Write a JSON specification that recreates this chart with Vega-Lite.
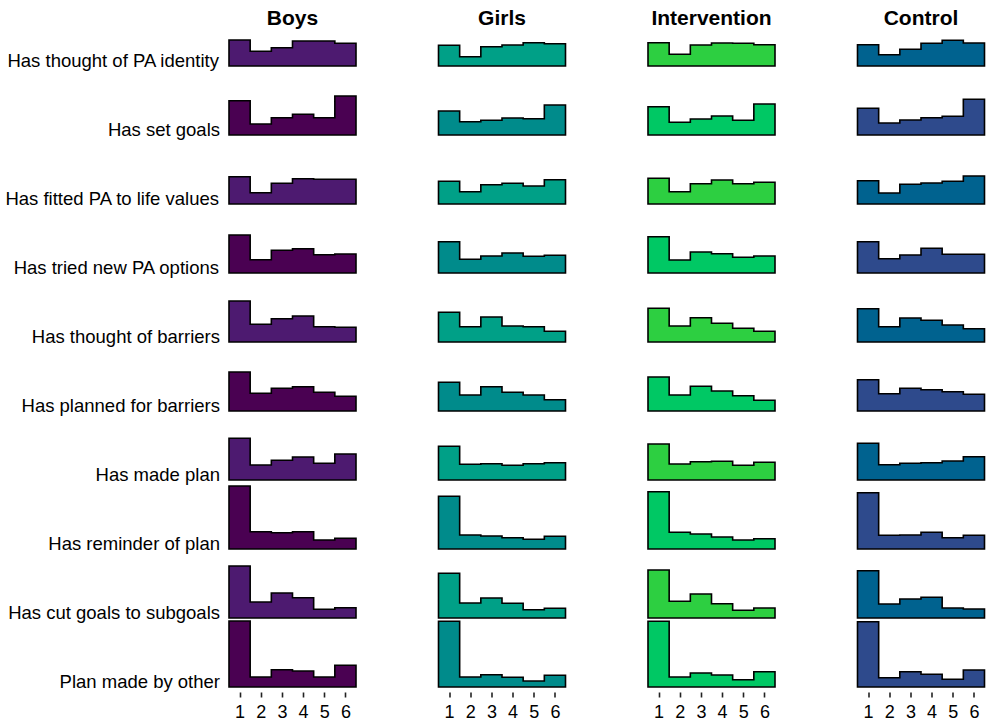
{
 "$schema": "https://vega.github.io/schema/vega-lite/v6.json",
 "padding": {"left": 5, "top": 8, "right": 0, "bottom": 0},
 "background": "white",
 "bounds": "flush",
 "config": {"view": {"stroke": null}, "font": "Liberation Sans"},
 "data": {"values": [
{"group":"Boys","item":"Has thought of PA identity","score":0.5,"height":26},
{"group":"Boys","item":"Has thought of PA identity","score":1,"height":26},
{"group":"Boys","item":"Has thought of PA identity","score":2,"height":14.7},
{"group":"Boys","item":"Has thought of PA identity","score":3,"height":18.3},
{"group":"Boys","item":"Has thought of PA identity","score":4,"height":25},
{"group":"Boys","item":"Has thought of PA identity","score":5,"height":25},
{"group":"Boys","item":"Has thought of PA identity","score":6,"height":22.7},
{"group":"Boys","item":"Has thought of PA identity","score":6.5,"height":22.7},
{"group":"Boys","item":"Has set goals","score":0.5,"height":34.3},
{"group":"Boys","item":"Has set goals","score":1,"height":34.3},
{"group":"Boys","item":"Has set goals","score":2,"height":11},
{"group":"Boys","item":"Has set goals","score":3,"height":17.3},
{"group":"Boys","item":"Has set goals","score":4,"height":20.7},
{"group":"Boys","item":"Has set goals","score":5,"height":17.3},
{"group":"Boys","item":"Has set goals","score":6,"height":39},
{"group":"Boys","item":"Has set goals","score":6.5,"height":39},
{"group":"Boys","item":"Has fitted PA to life values","score":0.5,"height":27.3},
{"group":"Boys","item":"Has fitted PA to life values","score":1,"height":27.3},
{"group":"Boys","item":"Has fitted PA to life values","score":2,"height":11.3},
{"group":"Boys","item":"Has fitted PA to life values","score":3,"height":20.7},
{"group":"Boys","item":"Has fitted PA to life values","score":4,"height":25.3},
{"group":"Boys","item":"Has fitted PA to life values","score":5,"height":24.7},
{"group":"Boys","item":"Has fitted PA to life values","score":6,"height":24.7},
{"group":"Boys","item":"Has fitted PA to life values","score":6.5,"height":24.7},
{"group":"Boys","item":"Has tried new PA options","score":0.5,"height":38},
{"group":"Boys","item":"Has tried new PA options","score":1,"height":38},
{"group":"Boys","item":"Has tried new PA options","score":2,"height":13.3},
{"group":"Boys","item":"Has tried new PA options","score":3,"height":22.7},
{"group":"Boys","item":"Has tried new PA options","score":4,"height":24.3},
{"group":"Boys","item":"Has tried new PA options","score":5,"height":18.3},
{"group":"Boys","item":"Has tried new PA options","score":6,"height":19},
{"group":"Boys","item":"Has tried new PA options","score":6.5,"height":19},
{"group":"Boys","item":"Has thought of barriers","score":0.5,"height":41},
{"group":"Boys","item":"Has thought of barriers","score":1,"height":41},
{"group":"Boys","item":"Has thought of barriers","score":2,"height":17.7},
{"group":"Boys","item":"Has thought of barriers","score":3,"height":23.3},
{"group":"Boys","item":"Has thought of barriers","score":4,"height":26},
{"group":"Boys","item":"Has thought of barriers","score":5,"height":15.3},
{"group":"Boys","item":"Has thought of barriers","score":6,"height":14.7},
{"group":"Boys","item":"Has thought of barriers","score":6.5,"height":14.7},
{"group":"Boys","item":"Has planned for barriers","score":0.5,"height":39},
{"group":"Boys","item":"Has planned for barriers","score":1,"height":39},
{"group":"Boys","item":"Has planned for barriers","score":2,"height":17.7},
{"group":"Boys","item":"Has planned for barriers","score":3,"height":22.7},
{"group":"Boys","item":"Has planned for barriers","score":4,"height":24.3},
{"group":"Boys","item":"Has planned for barriers","score":5,"height":18.7},
{"group":"Boys","item":"Has planned for barriers","score":6,"height":14.7},
{"group":"Boys","item":"Has planned for barriers","score":6.5,"height":14.7},
{"group":"Boys","item":"Has made plan","score":0.5,"height":41.7},
{"group":"Boys","item":"Has made plan","score":1,"height":41.7},
{"group":"Boys","item":"Has made plan","score":2,"height":15},
{"group":"Boys","item":"Has made plan","score":3,"height":19.7},
{"group":"Boys","item":"Has made plan","score":4,"height":23},
{"group":"Boys","item":"Has made plan","score":5,"height":16.7},
{"group":"Boys","item":"Has made plan","score":6,"height":26},
{"group":"Boys","item":"Has made plan","score":6.5,"height":26},
{"group":"Boys","item":"Has reminder of plan","score":0.5,"height":63},
{"group":"Boys","item":"Has reminder of plan","score":1,"height":63},
{"group":"Boys","item":"Has reminder of plan","score":2,"height":17.3},
{"group":"Boys","item":"Has reminder of plan","score":3,"height":16.3},
{"group":"Boys","item":"Has reminder of plan","score":4,"height":17.3},
{"group":"Boys","item":"Has reminder of plan","score":5,"height":9},
{"group":"Boys","item":"Has reminder of plan","score":6,"height":10.7},
{"group":"Boys","item":"Has reminder of plan","score":6.5,"height":10.7},
{"group":"Boys","item":"Has cut goals to subgoals","score":0.5,"height":52},
{"group":"Boys","item":"Has cut goals to subgoals","score":1,"height":52},
{"group":"Boys","item":"Has cut goals to subgoals","score":2,"height":16},
{"group":"Boys","item":"Has cut goals to subgoals","score":3,"height":25},
{"group":"Boys","item":"Has cut goals to subgoals","score":4,"height":20.3},
{"group":"Boys","item":"Has cut goals to subgoals","score":5,"height":8.7},
{"group":"Boys","item":"Has cut goals to subgoals","score":6,"height":10.3},
{"group":"Boys","item":"Has cut goals to subgoals","score":6.5,"height":10.3},
{"group":"Boys","item":"Plan made by other","score":0.5,"height":66},
{"group":"Boys","item":"Plan made by other","score":1,"height":66},
{"group":"Boys","item":"Plan made by other","score":2,"height":10},
{"group":"Boys","item":"Plan made by other","score":3,"height":17.3},
{"group":"Boys","item":"Plan made by other","score":4,"height":16},
{"group":"Boys","item":"Plan made by other","score":5,"height":10},
{"group":"Boys","item":"Plan made by other","score":6,"height":21.7},
{"group":"Boys","item":"Plan made by other","score":6.5,"height":21.7},
{"group":"Girls","item":"Has thought of PA identity","score":0.5,"height":20.7},
{"group":"Girls","item":"Has thought of PA identity","score":1,"height":20.7},
{"group":"Girls","item":"Has thought of PA identity","score":2,"height":9.3},
{"group":"Girls","item":"Has thought of PA identity","score":3,"height":19.3},
{"group":"Girls","item":"Has thought of PA identity","score":4,"height":21},
{"group":"Girls","item":"Has thought of PA identity","score":5,"height":23.3},
{"group":"Girls","item":"Has thought of PA identity","score":6,"height":22.3},
{"group":"Girls","item":"Has thought of PA identity","score":6.5,"height":22.3},
{"group":"Girls","item":"Has set goals","score":0.5,"height":24},
{"group":"Girls","item":"Has set goals","score":1,"height":24},
{"group":"Girls","item":"Has set goals","score":2,"height":13.3},
{"group":"Girls","item":"Has set goals","score":3,"height":14.7},
{"group":"Girls","item":"Has set goals","score":4,"height":17},
{"group":"Girls","item":"Has set goals","score":5,"height":16.3},
{"group":"Girls","item":"Has set goals","score":6,"height":30},
{"group":"Girls","item":"Has set goals","score":6.5,"height":30},
{"group":"Girls","item":"Has fitted PA to life values","score":0.5,"height":22.7},
{"group":"Girls","item":"Has fitted PA to life values","score":1,"height":22.7},
{"group":"Girls","item":"Has fitted PA to life values","score":2,"height":12.3},
{"group":"Girls","item":"Has fitted PA to life values","score":3,"height":19.3},
{"group":"Girls","item":"Has fitted PA to life values","score":4,"height":20.7},
{"group":"Girls","item":"Has fitted PA to life values","score":5,"height":18},
{"group":"Girls","item":"Has fitted PA to life values","score":6,"height":24.3},
{"group":"Girls","item":"Has fitted PA to life values","score":6.5,"height":24.3},
{"group":"Girls","item":"Has tried new PA options","score":0.5,"height":31.3},
{"group":"Girls","item":"Has tried new PA options","score":1,"height":31.3},
{"group":"Girls","item":"Has tried new PA options","score":2,"height":13.7},
{"group":"Girls","item":"Has tried new PA options","score":3,"height":17},
{"group":"Girls","item":"Has tried new PA options","score":4,"height":20},
{"group":"Girls","item":"Has tried new PA options","score":5,"height":16.7},
{"group":"Girls","item":"Has tried new PA options","score":6,"height":17.7},
{"group":"Girls","item":"Has tried new PA options","score":6.5,"height":17.7},
{"group":"Girls","item":"Has thought of barriers","score":0.5,"height":29.7},
{"group":"Girls","item":"Has thought of barriers","score":1,"height":29.7},
{"group":"Girls","item":"Has thought of barriers","score":2,"height":15.3},
{"group":"Girls","item":"Has thought of barriers","score":3,"height":25},
{"group":"Girls","item":"Has thought of barriers","score":4,"height":16},
{"group":"Girls","item":"Has thought of barriers","score":5,"height":15.3},
{"group":"Girls","item":"Has thought of barriers","score":6,"height":10.7},
{"group":"Girls","item":"Has thought of barriers","score":6.5,"height":10.7},
{"group":"Girls","item":"Has planned for barriers","score":0.5,"height":28.7},
{"group":"Girls","item":"Has planned for barriers","score":1,"height":28.7},
{"group":"Girls","item":"Has planned for barriers","score":2,"height":16},
{"group":"Girls","item":"Has planned for barriers","score":3,"height":24.3},
{"group":"Girls","item":"Has planned for barriers","score":4,"height":18.7},
{"group":"Girls","item":"Has planned for barriers","score":5,"height":16},
{"group":"Girls","item":"Has planned for barriers","score":6,"height":11.3},
{"group":"Girls","item":"Has planned for barriers","score":6.5,"height":11.3},
{"group":"Girls","item":"Has made plan","score":0.5,"height":33.7},
{"group":"Girls","item":"Has made plan","score":1,"height":33.7},
{"group":"Girls","item":"Has made plan","score":2,"height":15.7},
{"group":"Girls","item":"Has made plan","score":3,"height":16.3},
{"group":"Girls","item":"Has made plan","score":4,"height":14.7},
{"group":"Girls","item":"Has made plan","score":5,"height":16.3},
{"group":"Girls","item":"Has made plan","score":6,"height":17.3},
{"group":"Girls","item":"Has made plan","score":6.5,"height":17.3},
{"group":"Girls","item":"Has reminder of plan","score":0.5,"height":52.7},
{"group":"Girls","item":"Has reminder of plan","score":1,"height":52.7},
{"group":"Girls","item":"Has reminder of plan","score":2,"height":14},
{"group":"Girls","item":"Has reminder of plan","score":3,"height":13},
{"group":"Girls","item":"Has reminder of plan","score":4,"height":11.3},
{"group":"Girls","item":"Has reminder of plan","score":5,"height":9.7},
{"group":"Girls","item":"Has reminder of plan","score":6,"height":12.7},
{"group":"Girls","item":"Has reminder of plan","score":6.5,"height":12.7},
{"group":"Girls","item":"Has cut goals to subgoals","score":0.5,"height":44.7},
{"group":"Girls","item":"Has cut goals to subgoals","score":1,"height":44.7},
{"group":"Girls","item":"Has cut goals to subgoals","score":2,"height":15},
{"group":"Girls","item":"Has cut goals to subgoals","score":3,"height":20},
{"group":"Girls","item":"Has cut goals to subgoals","score":4,"height":14.7},
{"group":"Girls","item":"Has cut goals to subgoals","score":5,"height":8.3},
{"group":"Girls","item":"Has cut goals to subgoals","score":6,"height":9.7},
{"group":"Girls","item":"Has cut goals to subgoals","score":6.5,"height":9.7},
{"group":"Girls","item":"Plan made by other","score":0.5,"height":65.7},
{"group":"Girls","item":"Plan made by other","score":1,"height":65.7},
{"group":"Girls","item":"Plan made by other","score":2,"height":10},
{"group":"Girls","item":"Plan made by other","score":3,"height":12.3},
{"group":"Girls","item":"Plan made by other","score":4,"height":9.7},
{"group":"Girls","item":"Plan made by other","score":5,"height":6},
{"group":"Girls","item":"Plan made by other","score":6,"height":11.7},
{"group":"Girls","item":"Plan made by other","score":6.5,"height":11.7},
{"group":"Intervention","item":"Has thought of PA identity","score":0.5,"height":23.3},
{"group":"Intervention","item":"Has thought of PA identity","score":1,"height":23.3},
{"group":"Intervention","item":"Has thought of PA identity","score":2,"height":11.7},
{"group":"Intervention","item":"Has thought of PA identity","score":3,"height":21},
{"group":"Intervention","item":"Has thought of PA identity","score":4,"height":23},
{"group":"Intervention","item":"Has thought of PA identity","score":5,"height":22.7},
{"group":"Intervention","item":"Has thought of PA identity","score":6,"height":21.3},
{"group":"Intervention","item":"Has thought of PA identity","score":6.5,"height":21.3},
{"group":"Intervention","item":"Has set goals","score":0.5,"height":28.3},
{"group":"Intervention","item":"Has set goals","score":1,"height":28.3},
{"group":"Intervention","item":"Has set goals","score":2,"height":12.7},
{"group":"Intervention","item":"Has set goals","score":3,"height":16},
{"group":"Intervention","item":"Has set goals","score":4,"height":19},
{"group":"Intervention","item":"Has set goals","score":5,"height":14.7},
{"group":"Intervention","item":"Has set goals","score":6,"height":31},
{"group":"Intervention","item":"Has set goals","score":6.5,"height":31},
{"group":"Intervention","item":"Has fitted PA to life values","score":0.5,"height":25.7},
{"group":"Intervention","item":"Has fitted PA to life values","score":1,"height":25.7},
{"group":"Intervention","item":"Has fitted PA to life values","score":2,"height":12.3},
{"group":"Intervention","item":"Has fitted PA to life values","score":3,"height":20.3},
{"group":"Intervention","item":"Has fitted PA to life values","score":4,"height":24},
{"group":"Intervention","item":"Has fitted PA to life values","score":5,"height":20.3},
{"group":"Intervention","item":"Has fitted PA to life values","score":6,"height":21.7},
{"group":"Intervention","item":"Has fitted PA to life values","score":6.5,"height":21.7},
{"group":"Intervention","item":"Has tried new PA options","score":0.5,"height":36.3},
{"group":"Intervention","item":"Has tried new PA options","score":1,"height":36.3},
{"group":"Intervention","item":"Has tried new PA options","score":2,"height":13},
{"group":"Intervention","item":"Has tried new PA options","score":3,"height":21},
{"group":"Intervention","item":"Has tried new PA options","score":4,"height":19.3},
{"group":"Intervention","item":"Has tried new PA options","score":5,"height":15.7},
{"group":"Intervention","item":"Has tried new PA options","score":6,"height":17},
{"group":"Intervention","item":"Has tried new PA options","score":6.5,"height":17},
{"group":"Intervention","item":"Has thought of barriers","score":0.5,"height":33.7},
{"group":"Intervention","item":"Has thought of barriers","score":1,"height":33.7},
{"group":"Intervention","item":"Has thought of barriers","score":2,"height":16},
{"group":"Intervention","item":"Has thought of barriers","score":3,"height":24.3},
{"group":"Intervention","item":"Has thought of barriers","score":4,"height":18.7},
{"group":"Intervention","item":"Has thought of barriers","score":5,"height":13.7},
{"group":"Intervention","item":"Has thought of barriers","score":6,"height":10.7},
{"group":"Intervention","item":"Has thought of barriers","score":6.5,"height":10.7},
{"group":"Intervention","item":"Has planned for barriers","score":0.5,"height":34},
{"group":"Intervention","item":"Has planned for barriers","score":1,"height":34},
{"group":"Intervention","item":"Has planned for barriers","score":2,"height":16},
{"group":"Intervention","item":"Has planned for barriers","score":3,"height":24.7},
{"group":"Intervention","item":"Has planned for barriers","score":4,"height":20},
{"group":"Intervention","item":"Has planned for barriers","score":5,"height":15.3},
{"group":"Intervention","item":"Has planned for barriers","score":6,"height":10.7},
{"group":"Intervention","item":"Has planned for barriers","score":6.5,"height":10.7},
{"group":"Intervention","item":"Has made plan","score":0.5,"height":36},
{"group":"Intervention","item":"Has made plan","score":1,"height":36},
{"group":"Intervention","item":"Has made plan","score":2,"height":16},
{"group":"Intervention","item":"Has made plan","score":3,"height":18.3},
{"group":"Intervention","item":"Has made plan","score":4,"height":18.7},
{"group":"Intervention","item":"Has made plan","score":5,"height":14.7},
{"group":"Intervention","item":"Has made plan","score":6,"height":17.7},
{"group":"Intervention","item":"Has made plan","score":6.5,"height":17.7},
{"group":"Intervention","item":"Has reminder of plan","score":0.5,"height":57.3},
{"group":"Intervention","item":"Has reminder of plan","score":1,"height":57.3},
{"group":"Intervention","item":"Has reminder of plan","score":2,"height":16.7},
{"group":"Intervention","item":"Has reminder of plan","score":3,"height":15},
{"group":"Intervention","item":"Has reminder of plan","score":4,"height":12},
{"group":"Intervention","item":"Has reminder of plan","score":5,"height":9},
{"group":"Intervention","item":"Has reminder of plan","score":6,"height":10.3},
{"group":"Intervention","item":"Has reminder of plan","score":6.5,"height":10.3},
{"group":"Intervention","item":"Has cut goals to subgoals","score":0.5,"height":48},
{"group":"Intervention","item":"Has cut goals to subgoals","score":1,"height":48},
{"group":"Intervention","item":"Has cut goals to subgoals","score":2,"height":16.7},
{"group":"Intervention","item":"Has cut goals to subgoals","score":3,"height":24},
{"group":"Intervention","item":"Has cut goals to subgoals","score":4,"height":14.3},
{"group":"Intervention","item":"Has cut goals to subgoals","score":5,"height":7.7},
{"group":"Intervention","item":"Has cut goals to subgoals","score":6,"height":10},
{"group":"Intervention","item":"Has cut goals to subgoals","score":6.5,"height":10},
{"group":"Intervention","item":"Plan made by other","score":0.5,"height":65.7},
{"group":"Intervention","item":"Plan made by other","score":1,"height":65.7},
{"group":"Intervention","item":"Plan made by other","score":2,"height":10},
{"group":"Intervention","item":"Plan made by other","score":3,"height":14},
{"group":"Intervention","item":"Plan made by other","score":4,"height":12},
{"group":"Intervention","item":"Plan made by other","score":5,"height":7.3},
{"group":"Intervention","item":"Plan made by other","score":6,"height":15.3},
{"group":"Intervention","item":"Plan made by other","score":6.5,"height":15.3},
{"group":"Control","item":"Has thought of PA identity","score":0.5,"height":21.3},
{"group":"Control","item":"Has thought of PA identity","score":1,"height":21.3},
{"group":"Control","item":"Has thought of PA identity","score":2,"height":11.3},
{"group":"Control","item":"Has thought of PA identity","score":3,"height":16.7},
{"group":"Control","item":"Has thought of PA identity","score":4,"height":22.7},
{"group":"Control","item":"Has thought of PA identity","score":5,"height":25.7},
{"group":"Control","item":"Has thought of PA identity","score":6,"height":23},
{"group":"Control","item":"Has thought of PA identity","score":6.5,"height":23},
{"group":"Control","item":"Has set goals","score":0.5,"height":26.7},
{"group":"Control","item":"Has set goals","score":1,"height":26.7},
{"group":"Control","item":"Has set goals","score":2,"height":12},
{"group":"Control","item":"Has set goals","score":3,"height":15},
{"group":"Control","item":"Has set goals","score":4,"height":17.3},
{"group":"Control","item":"Has set goals","score":5,"height":18.7},
{"group":"Control","item":"Has set goals","score":6,"height":35.7},
{"group":"Control","item":"Has set goals","score":6.5,"height":35.7},
{"group":"Control","item":"Has fitted PA to life values","score":0.5,"height":23.3},
{"group":"Control","item":"Has fitted PA to life values","score":1,"height":23.3},
{"group":"Control","item":"Has fitted PA to life values","score":2,"height":11},
{"group":"Control","item":"Has fitted PA to life values","score":3,"height":19.7},
{"group":"Control","item":"Has fitted PA to life values","score":4,"height":21},
{"group":"Control","item":"Has fitted PA to life values","score":5,"height":22.7},
{"group":"Control","item":"Has fitted PA to life values","score":6,"height":28},
{"group":"Control","item":"Has fitted PA to life values","score":6.5,"height":28},
{"group":"Control","item":"Has tried new PA options","score":0.5,"height":31.3},
{"group":"Control","item":"Has tried new PA options","score":1,"height":31.3},
{"group":"Control","item":"Has tried new PA options","score":2,"height":14.3},
{"group":"Control","item":"Has tried new PA options","score":3,"height":18},
{"group":"Control","item":"Has tried new PA options","score":4,"height":24.7},
{"group":"Control","item":"Has tried new PA options","score":5,"height":18.7},
{"group":"Control","item":"Has tried new PA options","score":6,"height":18.7},
{"group":"Control","item":"Has tried new PA options","score":6.5,"height":18.7},
{"group":"Control","item":"Has thought of barriers","score":0.5,"height":33.3},
{"group":"Control","item":"Has thought of barriers","score":1,"height":33.3},
{"group":"Control","item":"Has thought of barriers","score":2,"height":15.3},
{"group":"Control","item":"Has thought of barriers","score":3,"height":24},
{"group":"Control","item":"Has thought of barriers","score":4,"height":21.7},
{"group":"Control","item":"Has thought of barriers","score":5,"height":17},
{"group":"Control","item":"Has thought of barriers","score":6,"height":13.3},
{"group":"Control","item":"Has thought of barriers","score":6.5,"height":13.3},
{"group":"Control","item":"Has planned for barriers","score":0.5,"height":31.3},
{"group":"Control","item":"Has planned for barriers","score":1,"height":31.3},
{"group":"Control","item":"Has planned for barriers","score":2,"height":17.3},
{"group":"Control","item":"Has planned for barriers","score":3,"height":22.7},
{"group":"Control","item":"Has planned for barriers","score":4,"height":21.3},
{"group":"Control","item":"Has planned for barriers","score":5,"height":19.3},
{"group":"Control","item":"Has planned for barriers","score":6,"height":16.7},
{"group":"Control","item":"Has planned for barriers","score":6.5,"height":16.7},
{"group":"Control","item":"Has made plan","score":0.5,"height":36.7},
{"group":"Control","item":"Has made plan","score":1,"height":36.7},
{"group":"Control","item":"Has made plan","score":2,"height":15.3},
{"group":"Control","item":"Has made plan","score":3,"height":16.7},
{"group":"Control","item":"Has made plan","score":4,"height":17.3},
{"group":"Control","item":"Has made plan","score":5,"height":19},
{"group":"Control","item":"Has made plan","score":6,"height":23.3},
{"group":"Control","item":"Has made plan","score":6.5,"height":23.3},
{"group":"Control","item":"Has reminder of plan","score":0.5,"height":56.3},
{"group":"Control","item":"Has reminder of plan","score":1,"height":56.3},
{"group":"Control","item":"Has reminder of plan","score":2,"height":13.7},
{"group":"Control","item":"Has reminder of plan","score":3,"height":14},
{"group":"Control","item":"Has reminder of plan","score":4,"height":16.7},
{"group":"Control","item":"Has reminder of plan","score":5,"height":11.3},
{"group":"Control","item":"Has reminder of plan","score":6,"height":13.7},
{"group":"Control","item":"Has reminder of plan","score":6.5,"height":13.7},
{"group":"Control","item":"Has cut goals to subgoals","score":0.5,"height":47.3},
{"group":"Control","item":"Has cut goals to subgoals","score":1,"height":47.3},
{"group":"Control","item":"Has cut goals to subgoals","score":2,"height":14},
{"group":"Control","item":"Has cut goals to subgoals","score":3,"height":19},
{"group":"Control","item":"Has cut goals to subgoals","score":4,"height":20.7},
{"group":"Control","item":"Has cut goals to subgoals","score":5,"height":10},
{"group":"Control","item":"Has cut goals to subgoals","score":6,"height":9},
{"group":"Control","item":"Has cut goals to subgoals","score":6.5,"height":9},
{"group":"Control","item":"Plan made by other","score":0.5,"height":65.3},
{"group":"Control","item":"Plan made by other","score":1,"height":65.3},
{"group":"Control","item":"Plan made by other","score":2,"height":9.3},
{"group":"Control","item":"Plan made by other","score":3,"height":15.3},
{"group":"Control","item":"Plan made by other","score":4,"height":12.7},
{"group":"Control","item":"Plan made by other","score":5,"height":7.7},
{"group":"Control","item":"Plan made by other","score":6,"height":17},
{"group":"Control","item":"Plan made by other","score":6.5,"height":17}
 ]},
 "facet": {
  "row": {"field": "item", "type": "nominal",
   "sort": ["Has thought of PA identity","Has set goals","Has fitted PA to life values","Has tried new PA options","Has thought of barriers","Has planned for barriers","Has made plan","Has reminder of plan","Has cut goals to subgoals","Plan made by other"],
   "header": {"title": null, "labelAngle": 0, "labelAlign": "left", "labelBaseline": "middle", "labelFontSize": 18.5, "labelFont": "Liberation Sans", "labelColor": "black", "labelPadding": 9, "labelLimit": 400}},
  "column": {"field": "group", "type": "nominal", "sort": ["Boys","Girls","Intervention","Control"],
   "header": {"title": null, "labelFontSize": 21, "labelFontWeight": "bold", "labelFont": "Liberation Sans", "labelColor": "black", "labelPadding": 27}}
 },
 "spacing": {"row": 59, "column": 82.5},
 "spec": {
  "width": 127,
  "height": 10,
  "encoding": {
   "x": {"field": "score", "type": "quantitative", "scale": {"domain": [0.5, 6.5], "nice": false, "zero": false},
    "axis": {"values": [1,2,3,4,5,6], "format": "d", "domain": false, "grid": false, "tickSize": 5, "tickWidth": 1.6, "tickColor": "#222", "labelFontSize": 18, "labelFont": "Liberation Sans", "labelColor": "black", "labelPadding": 6, "offset": 5, "title": null}},
   "y": {"field": "height", "type": "quantitative", "stack": null, "scale": {"domain": [0, 10], "nice": false, "zero": true}, "axis": null}
  },
  "layer": [
   {"transform": [{"filter": "datum.group === 'Boys'"}],
    "mark": {"type": "area", "interpolate": "step", "stroke": "black", "strokeWidth": 1.6, "fillOpacity": 1},
    "encoding": {"color": {"field": "item", "type": "nominal", "legend": null,
     "scale": {"domain": ["Has thought of PA identity","Has set goals","Has fitted PA to life values","Has tried new PA options","Has thought of barriers","Has planned for barriers","Has made plan","Has reminder of plan","Has cut goals to subgoals","Plan made by other"],
      "range": ["#4D1A70","#4A0152","#4D1A70","#4A0152","#4D1A70","#4A0152","#4D1A70","#4A0152","#4D1A70","#4A0152"]}}}},
   {"transform": [{"filter": "datum.group === 'Girls'"}],
    "mark": {"type": "area", "interpolate": "step", "stroke": "black", "strokeWidth": 1.6, "fillOpacity": 1},
    "encoding": {"color": {"field": "item", "type": "nominal", "legend": null,
     "scale": {"domain": ["Has thought of PA identity","Has set goals","Has fitted PA to life values","Has tried new PA options","Has thought of barriers","Has planned for barriers","Has made plan","Has reminder of plan","Has cut goals to subgoals","Plan made by other"],
      "range": ["#00A087","#008B8B","#00A087","#008B8B","#00A087","#008B8B","#00A087","#008B8B","#00A087","#008B8B"]}}}},
   {"transform": [{"filter": "datum.group === 'Intervention'"}],
    "mark": {"type": "area", "interpolate": "step", "stroke": "black", "strokeWidth": 1.6, "fillOpacity": 1},
    "encoding": {"color": {"field": "item", "type": "nominal", "legend": null,
     "scale": {"domain": ["Has thought of PA identity","Has set goals","Has fitted PA to life values","Has tried new PA options","Has thought of barriers","Has planned for barriers","Has made plan","Has reminder of plan","Has cut goals to subgoals","Plan made by other"],
      "range": ["#2DCF41","#00C864","#2DCF41","#00C864","#2DCF41","#00C864","#2DCF41","#00C864","#2DCF41","#00C864"]}}}},
   {"transform": [{"filter": "datum.group === 'Control'"}],
    "mark": {"type": "area", "interpolate": "step", "stroke": "black", "strokeWidth": 1.6, "fillOpacity": 1},
    "encoding": {"color": {"field": "item", "type": "nominal", "legend": null,
     "scale": {"domain": ["Has thought of PA identity","Has set goals","Has fitted PA to life values","Has tried new PA options","Has thought of barriers","Has planned for barriers","Has made plan","Has reminder of plan","Has cut goals to subgoals","Plan made by other"],
      "range": ["#00628F","#2E4A8C","#00628F","#2E4A8C","#00628F","#2E4A8C","#00628F","#2E4A8C","#00628F","#2E4A8C"]}}}}
  ],
  "resolve": {"scale": {"color": "independent"}}
 }
}
